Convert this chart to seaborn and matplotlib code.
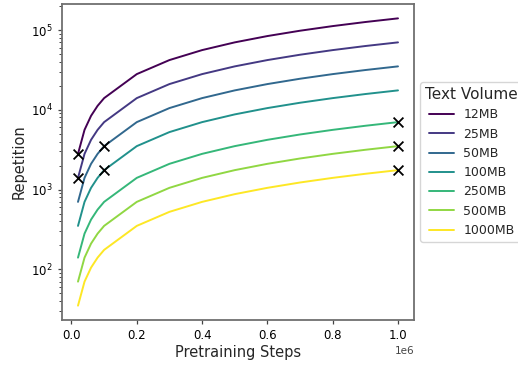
import matplotlib
matplotlib.use("Agg")
import matplotlib.pyplot as plt
import numpy as np
import pandas as pd
import seaborn as sns

steps = [20000, 40000, 60000, 80000, 100000, 200000, 300000, 400000,
         500000, 600000, 700000, 800000, 900000, 1000000]
volumes = ["12MB", "25MB", "50MB", "100MB", "250MB", "500MB", "1000MB"]
rep_12 = [2800, 5600, 8400, 11200, 14000, 28000, 42000, 56000, 70000, 84000, 98000, 112000, 126000, 140000]
rep_25 = [1400, 2800, 4200, 5600, 7000, 14000, 21000, 28000, 35000, 42000, 49000, 56000, 63000, 70000]
rep_50 = [700, 1400, 2100, 2800, 3500, 7000, 10500, 14000, 17500, 21000, 24500, 28000, 31500, 35000]
rep_100 = [350, 700, 1050, 1400, 1750, 3500, 5250, 7000, 8750, 10500, 12250, 14000, 15750, 17500]
rep_250 = [140, 280, 420, 560, 700, 1400, 2100, 2800, 3500, 4200, 4900, 5600, 6300, 7000]
rep_500 = [70, 140, 210, 280, 350, 700, 1050, 1400, 1750, 2100, 2450, 2800, 3150, 3500]
rep_1000 = [35, 70, 105, 140, 175, 350, 525, 700, 875, 1050, 1225, 1400, 1575, 1750]

mark_steps = [20000, 20000, 100000, 100000, 1000000, 1000000, 1000000]
mark_reps = [2800, 1400, 3500, 1750, 7000, 3500, 1750]

series = [rep_12, rep_25, rep_50, rep_100, rep_250, rep_500, rep_1000]
df = pd.DataFrame({
    "Pretraining Steps": steps * len(volumes),
    "Repetition": [v for s in series for v in s],
    "Text Volume": [name for name in volumes for _ in steps],
})

colors = [plt.cm.viridis(t) for t in np.linspace(0, 1, len(volumes))]

sns.set_style("ticks")
plt.rcParams["font.family"] = ["DejaVu Sans"]

fig = plt.figure(figsize=(5.18, 3.67), dpi=100)
ax = fig.add_axes([62 / 518, 1 - 320 / 367, 352 / 518, 316 / 367])

sns.lineplot(data=df, x="Pretraining Steps", y="Repetition", hue="Text Volume",
             hue_order=volumes, palette=colors, linewidth=1.4, ax=ax)
ax.scatter(mark_steps, mark_reps, marker="x", color="black", s=50, linewidths=1.3, zorder=5)

ax.set_yscale("log")
ax.set_xlabel("Pretraining Steps", fontsize=10.5, labelpad=2)
ax.set_ylabel("Repetition", fontsize=10.5, labelpad=3)
ax.tick_params(which="major", labelsize=8.5, length=3, width=0.9, colors="#444444", labelcolor="black")
ax.tick_params(which="minor", length=2, width=0.7, colors="#444444")
ax.xaxis.get_offset_text().set_fontsize(7.5)
for sp in ax.spines.values():
    sp.set_color("#707070")
    sp.set_linewidth(1.3)

leg = ax.legend(title="Text Volume", loc="center left", bbox_to_anchor=(1.0, 0.5),
                fontsize=9, title_fontsize=11, frameon=True)

fig.savefig("out.png", dpi=100)
